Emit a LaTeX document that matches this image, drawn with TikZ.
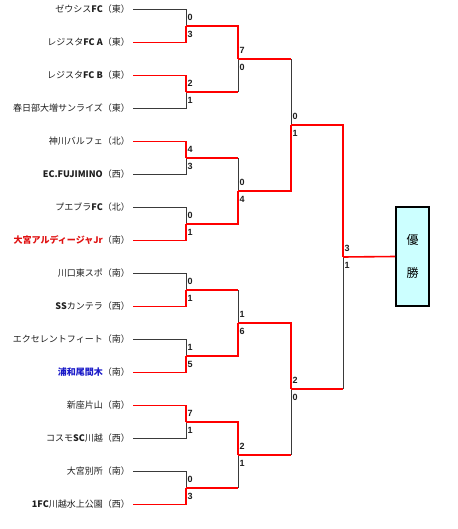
\documentclass[tikz,border=0pt]{standalone}
\usepackage{fontspec}
\setmainfont{Noto Sans CJK JP}
\newfontfamily\scorefont{Liberation Sans}
\usetikzlibrary{positioning}
\definecolor{ink}{HTML}{1E1E1E}
\definecolor{wire}{HTML}{3A3A3A}
\definecolor{winred}{HTML}{FF0000}
\definecolor{textred}{HTML}{E01010}
\definecolor{textblue}{HTML}{1A1AC8}
\definecolor{cupfill}{HTML}{CCFFFF}

\tikzset{
  team/.style={anchor=east,inner xsep=3pt,inner ysep=0pt,text=ink,
               font=\fontsize{9}{10}\selectfont},
  score/.style={anchor=west,inner xsep=1.5pt,inner ysep=0pt,text=ink,
                font=\scorefont\bfseries\fontsize{9}{10}\selectfont},
  lose/.style={draw=wire,line width=0.8pt},
  win/.style={draw=winred,line width=1.6pt},
  cupbox/.style={draw=black,line width=1.6pt,fill=cupfill,minimum width=33pt,
                 minimum height=99pt,inner sep=0pt,align=center,
                 font=\fontsize{12}{33}\selectfont}
}

\begin{document}
\begin{tikzpicture}[x=1pt,y=-1pt]
\useasboundingbox (0,0) rectangle (457,529);

% teams
\node[team] (t1)  at (133,9.5)   {ゼウシス\textbf{FC}（東）};
\node[team] (t2)  at (133,42.5)  {レジスタ\textbf{FC A}（東）};
\node[team] (t3)  at (133,75.5)  {レジスタ\textbf{FC B}（東）};
\node[team] (t4)  at (133,108.5) {春日部大増サンライズ（東）};
\node[team] (t5)  at (133,141.5) {神川バルフェ（北）};
\node[team] (t6)  at (133,174.5) {\textbf{EC.FUJIMINO}（西）};
\node[team] (t7)  at (133,207.5) {プエブラ\textbf{FC}（北）};
\node[team] (t8)  at (133,240.5) {\textcolor{textred}{\textbf{大宮アルディージャJr}}（南）};
\node[team] (t9)  at (133,273.5) {川口東スポ（南）};
\node[team] (t10) at (133,306.5) {\textbf{SS}カンテラ（西）};
\node[team] (t11) at (133,339.5) {エクセレントフィート（南）};
\node[team] (t12) at (133,372.5) {\textcolor{textblue}{\textbf{浦和尾間木}}（南）};
\node[team] (t13) at (133,405.5) {新座片山（南）};
\node[team] (t14) at (133,438.5) {コスモ\textbf{SC}川越（西）};
\node[team] (t15) at (133,471.5) {大宮別所（南）};
\node[team] (t16) at (133,504.5) {\textbf{1FC}川越水上公園（西）};

% match points
\coordinate (a1) at (186,26);  \coordinate (a2) at (186,92);
\coordinate (a3) at (186,158); \coordinate (a4) at (186,224);
\coordinate (a5) at (186,290); \coordinate (a6) at (186,356);
\coordinate (a7) at (186,422); \coordinate (a8) at (186,488);
\coordinate (b1) at (238,59);  \coordinate (b2) at (238,191);
\coordinate (b3) at (238,323); \coordinate (b4) at (238,455);
\coordinate (c1) at (291,125); \coordinate (c2) at (291,389);
\coordinate (f)  at (343,257);

\node[cupbox] (cup) at (412.5,256.5) {優\\勝};

% first round
\draw[lose] (t1.east) -| (a1);  \draw[lose] (t4.east) -| (a2);
\draw[lose] (t6.east) -| (a3);  \draw[lose] (t7.east) -| (a4);
\draw[lose] (t9.east) -| (a5);  \draw[lose] (t11.east) -| (a6);
\draw[lose] (t14.east) -| (a7); \draw[lose] (t15.east) -| (a8);
\draw[win] (t2.east) -| (a1);   \draw[win] (t3.east) -| (a2);
\draw[win] (t5.east) -| (a3);   \draw[win] (t8.east) -| (a4);
\draw[win] (t10.east) -| (a5);  \draw[win] (t12.east) -| (a6);
\draw[win] (t13.east) -| (a7);  \draw[win] (t16.east) -| (a8);

% later rounds
\draw[lose] (a2 -| b1) -- (b1); \draw[lose] (a3 -| b2) -- (b2);
\draw[lose] (a5 -| b3) -- (b3); \draw[lose] (a8 -| b4) -- (b4);
\draw[lose] (b1 -| c1) -- (c1); \draw[lose] (b4 -| c2) -- (c2);
\draw[lose] (c2 -| f) -- (f);
\draw[win] (a2) -- (a2 -| b1);  \draw[win] (a3) -- (a3 -| b2);
\draw[win] (a5) -- (a5 -| b3);  \draw[win] (a8) -- (a8 -| b4);
\draw[win] (b1) -- (b1 -| c1);  \draw[win] (b4) -- (b4 -| c2);
\draw[win] (c2) -- (c2 -| f);
\draw[win] (a1) -| (b1); \draw[win] (a4) -| (b2);
\draw[win] (a6) -| (b3); \draw[win] (a7) -| (b4);
\draw[win] (b2) -| (c1); \draw[win] (b3) -| (c2);
\draw[win] (c1) -| (f);
\draw[win] (f) -- (cup.west);

% scores
\foreach \m/\up/\dn in {a1/0/3,a2/2/1,a3/4/3,a4/0/1,a5/0/1,a6/1/5,a7/7/1,a8/0/3,
                        b1/7/0,b2/0/4,b3/1/6,b4/2/1,c1/0/1,c2/2/0,f/3/1}{
  \node[score,yshift=8.5pt] (\m-up) at (\m) {\up};
  \node[score,yshift=-8pt] (\m-dn) at (\m) {\dn};
}
\end{tikzpicture}
\end{document}
